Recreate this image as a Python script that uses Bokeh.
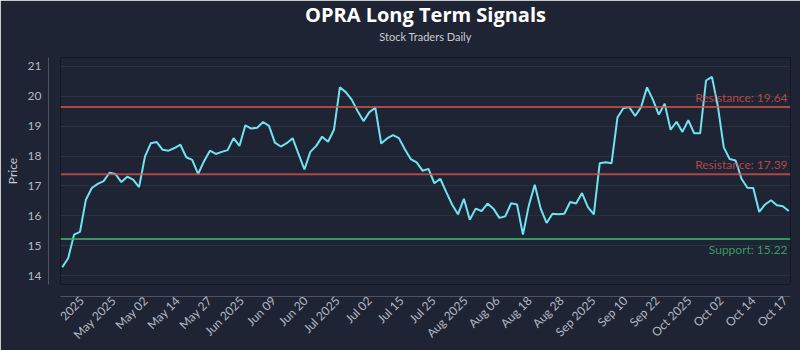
import numpy as np
from bokeh.plotting import figure
from bokeh.models import Range1d, FixedTicker, LinearAxis, Span, Label, Title
from bokeh.embed import file_html
from bokeh.resources import INLINE

prices = [14.28, 14.58, 15.37, 15.46, 16.54, 16.93, 17.07, 17.16, 17.44, 17.40,
          17.13, 17.31, 17.21, 16.96, 17.98, 18.43, 18.47, 18.21, 18.18, 18.27,
          18.38, 17.96, 17.87, 17.40, 17.83, 18.18, 18.07, 18.14, 18.20, 18.60,
          18.34, 19.03, 18.92, 18.95, 19.14, 19.01, 18.45, 18.32, 18.43, 18.60,
          18.07, 17.55, 18.14, 18.34, 18.65, 18.48, 18.88, 20.30, 20.14, 19.89,
          19.51, 19.17, 19.47, 19.62, 18.42, 18.59, 18.70, 18.60, 18.23, 17.90,
          17.79, 17.51, 17.57, 17.09, 17.24, 16.80, 16.38, 16.05, 16.57, 15.87,
          16.24, 16.16, 16.41, 16.24, 15.93, 15.98, 16.42, 16.38, 15.37, 16.35,
          17.04, 16.24, 15.76, 16.07, 16.05, 16.07, 16.46, 16.41, 16.76, 16.29,
          16.05, 17.76, 17.79, 17.76, 19.29, 19.60, 19.64, 19.34, 19.64, 20.30,
          19.89, 19.39, 19.75, 18.88, 19.15, 18.81, 19.20, 18.76, 18.76, 20.53,
          20.65, 19.67, 18.29, 17.90, 17.85, 17.24, 16.94, 16.93, 16.13, 16.38,
          16.52, 16.35, 16.32, 16.16]

tick_labels = ["2025", "May 2025", "May 02", "May 14", "May 27", "Jun 2025",
               "Jun 09", "Jun 20", "Jul 2025", "Jul 02", "Jul 15", "Jul 25",
               "Aug 2025", "Aug 06", "Aug 18", "Aug 28", "Sep 2025", "Sep 10",
               "Sep 22", "Oct 2025", "Oct 02", "Oct 14", "Oct 17"]

resistance_levels = [19.64, 17.39]
support_levels = [15.22]

FONT = "Lato"
TITLE_FONT = "Open Sans"
BG = "#1e2433"
RED = "#d9534f"
GREEN = "#3cb371"
n = len(prices)
xs = list(range(n))

p = figure(width=800, height=350, output_backend="svg", toolbar_location=None,
           x_range=Range1d(-0.3, n - 0.7), y_range=Range1d(13.7, 21.3),
           min_border_left=60, min_border_right=10, min_border_bottom=64,
           min_border_top=0, title=None)
p.background_fill_color = BG
p.border_fill_color = BG
p.outline_line_color = "#131722"
p.outline_line_width = 1

# titles (first added sits closest to the plot frame)
p.add_layout(Title(text=" ", text_font_size="1px", text_color=BG, standoff=10), "above")
p.add_layout(Title(text="Stock Traders Daily", align="center", text_color="#c8ccd4",
                   text_font=FONT, text_font_size="11px", text_font_style="normal",
                   vertical_align="top", standoff=0), "above")
p.add_layout(Title(text="OPRA Long Term Signals", align="center", text_color="#ffffff",
                   text_font=TITLE_FONT, text_font_size="20px", text_font_style="bold",
                   vertical_align="top", standoff=0), "above")

# grid
p.xgrid.visible = False
p.ygrid.grid_line_color = "#2a3141"
p.ygrid.grid_line_width = 1

# y axis
ya = p.yaxis[0]
ya.ticker = FixedTicker(ticks=list(range(14, 22)))
ya.axis_label = "Price"
ya.axis_label_text_font = FONT
ya.axis_label_text_font_size = "12px"
ya.axis_label_text_font_style = "normal"
ya.axis_label_text_color = "#c8ccd4"
ya.major_label_text_font = FONT
ya.major_label_text_font_size = "12px"
ya.major_label_text_color = "#b4b9c4"
ya.axis_line_color = "#4b5263"
ya.major_tick_line_color = None
ya.minor_tick_line_color = None
ya.major_tick_out = 0
ya.major_label_standoff = 7

# x axis
xa = p.xaxis[0]
tick_pos = list(np.linspace(3.3, n - 1.6, len(tick_labels)))
xa.ticker = FixedTicker(ticks=tick_pos)
xa.major_label_overrides = {float(t): lab for t, lab in zip(tick_pos, tick_labels)}
xa.major_label_orientation = np.pi / 4
xa.major_label_text_font = FONT
xa.major_label_text_font_size = "12px"
xa.major_label_text_color = "#b4b9c4"
xa.axis_line_color = "#4b5263"
xa.major_tick_line_color = None
xa.minor_tick_line_color = None
xa.major_tick_out = 0
xa.major_label_standoff = 2

# spacer axes (gap between frame and axes)
def spacer():
    return LinearAxis(ticker=FixedTicker(ticks=[]), axis_line_color=None,
                      major_tick_line_color=None, minor_tick_line_color=None,
                      major_tick_out=0, major_tick_in=0, major_label_standoff=0,
                      major_label_text_font_size="0px",
                      axis_label=" ", axis_label_standoff=0,
                      axis_label_text_font_size="8px", axis_label_text_color=BG)

p.left = [spacer()] + list(p.left)
p.below = [spacer()] + list(p.below)

# levels
for lv in resistance_levels:
    p.add_layout(Span(location=lv, dimension="width", line_color=RED,
                      line_alpha=0.75, line_width=2))
    p.add_layout(Label(x=n - 1.2, y=lv, text=f"Resistance: {lv:.2f}", text_align="right",
                       text_baseline="bottom", y_offset=2, text_font=FONT,
                       text_font_size="12px", text_color=RED, text_alpha=0.8))
for lv in support_levels:
    p.add_layout(Span(location=lv, dimension="width", line_color=GREEN,
                      line_alpha=0.8, line_width=2))
    p.add_layout(Label(x=n - 1.2, y=lv, text=f"Support: {lv:.2f}", text_align="right",
                       text_baseline="top", y_offset=-3, text_font=FONT,
                       text_font_size="12px", text_color=GREEN, text_alpha=0.85))

p.line(xs, prices, line_color="#6fe3ef", line_width=2)

open("out.html", "w").write(file_html(p, INLINE))
